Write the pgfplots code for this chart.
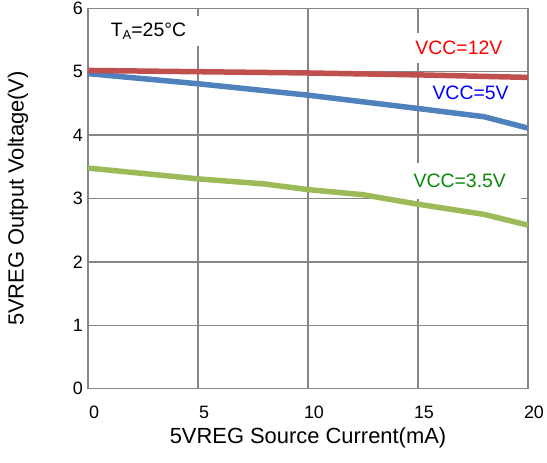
\documentclass[border=0pt]{standalone}
\usepackage{fontspec}
\setmainfont{Liberation Sans}
\usepackage{pgfplots}
\pgfplotsset{compat=1.18}
\definecolor{gridgray}{HTML}{868686}
\definecolor{cred}{HTML}{C0504D}
\definecolor{cblue}{HTML}{4F81BD}
\definecolor{cgreen}{HTML}{9BBB59}
\definecolor{tgreen}{HTML}{0A8A0A}
\begin{document}
\begin{tikzpicture}
\begin{axis}[
  at={(0,0)}, anchor=origin,
  scale only axis, width=440bp, height=380.4bp,
  xmin=0, xmax=20, ymin=0, ymax=6,
  xtick={0,5,...,20}, ytick={0,1,...,6},
  major tick length=0pt,
  grid=major,
  major grid style={gridgray, line width=1.5bp},
  axis line style={gridgray, line width=1.5bp},
  tick label style={font=\fontsize{18}{20}\selectfont},
  /pgf/number format/assume math mode=true,
  xticklabel style={anchor=center, yshift=-24bp, xshift=6bp},
  yticklabel style={anchor=east, inner sep=0pt, xshift=-5bp},
  xlabel={5VREG Source Current(mA)},
  ylabel={5VREG Output Voltage(V)},
  label style={font=\fontsize{22}{24}\selectfont},
  xlabel style={at={(axis description cs:0.5,-0.128)}, anchor=center},
  ylabel style={at={(axis description cs:-0.159,0.5)}, anchor=center},
  clip=false,
]
\node[fill=white, inner sep=0pt, minimum width=100bp, minimum height=30bp, font=\fontsize{19.5}{22}\selectfont]
  at (axis cs:2.75,5.64) {T\raisebox{-0.3ex}{\fontsize{13}{14}\selectfont A}=25°C};
\node[fill=white, text=red, inner sep=0pt, minimum width=104bp, minimum height=30bp, font=\fontsize{19.5}{22}\selectfont]
  at (axis cs:16.86,5.38) {VCC=12V};
\node[fill=white, text=blue, inner sep=0pt, minimum width=84bp, minimum height=26bp, font=\fontsize{19.5}{22}\selectfont]
  at (axis cs:17.39,4.66) {VCC=5V};
\node[fill=white, text=tgreen, inner sep=0pt, minimum width=122bp, minimum height=36bp, font=\fontsize{19.5}{22}\selectfont]
  at (axis cs:16.9,3.276) {VCC=3.5V};
\addplot[cgreen, line width=5.5bp, line join=round] coordinates {
 (0,3.48) (5,3.31) (8,3.23) (10,3.14) (12.5,3.06) (15,2.91) (18,2.75) (20,2.58)};
\addplot[cblue, line width=5.5bp, line join=round] coordinates {
 (0,4.97) (5,4.81) (10,4.63) (15,4.42) (18,4.29) (20,4.11)};
\addplot[cred, line width=5.5bp, line join=round] coordinates {
 (0,5.02) (5,5.00) (10,4.98) (15,4.95) (20,4.91)};
\end{axis}
\pgfresetboundingbox
\path (-88bp,-74.3bp) rectangle (459bp,388.7bp);
\end{tikzpicture}
\end{document}
